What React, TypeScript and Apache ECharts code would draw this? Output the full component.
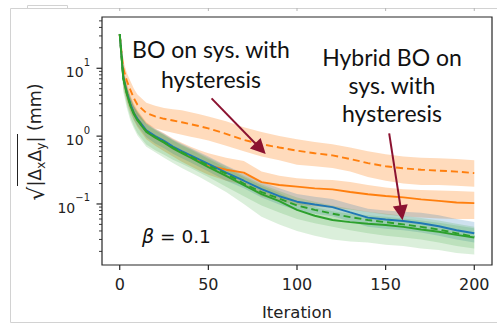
import React, { useEffect, useRef } from "react";
import * as echarts from "echarts";

// ---- data ----
const iterations = [0, 2, 4, 6, 8, 10, 15, 20, 25, 30, 35, 40, 45, 50, 60, 70, 80, 90, 100, 110, 120, 130, 140, 150, 160, 170, 180, 190, 200];

// BO on system with hysteresis (orange dashed)
const boHystMean = [31, 10, 6.5, 4.8, 3.6, 2.9, 2.2, 1.95, 1.8, 1.7, 1.6, 1.5, 1.4, 1.3, 1.08, 0.88, 0.76, 0.68, 0.61, 0.56, 0.52, 0.46, 0.4, 0.36, 0.335, 0.32, 0.31, 0.3, 0.285];
const boHystHi = [33, 13, 8.5, 6.5, 5, 4.1, 3.1, 2.8, 2.6, 2.5, 2.4, 2.25, 2.1, 1.95, 1.65, 1.35, 1.15, 1.0, 0.9, 0.82, 0.76, 0.68, 0.6, 0.54, 0.5, 0.48, 0.47, 0.46, 0.44];
const boHystLo = [29, 7, 4.3, 3.2, 2.5, 2.0, 1.5, 1.3, 1.2, 1.12, 1.05, 0.98, 0.92, 0.86, 0.72, 0.6, 0.5, 0.44, 0.38, 0.36, 0.34, 0.3, 0.25, 0.22, 0.2, 0.19, 0.19, 0.185, 0.18];

// orange solid
const boMean = [32, 7.5, 4.3, 2.9, 2.2, 1.8, 1.2, 0.97, 0.82, 0.68, 0.58, 0.5, 0.43, 0.37, 0.32, 0.29, 0.21, 0.19, 0.18, 0.17, 0.164, 0.15, 0.139, 0.131, 0.125, 0.117, 0.111, 0.105, 0.103];
const boHi = [33, 10, 6, 4, 3, 2.4, 1.6, 1.3, 1.1, 0.92, 0.8, 0.7, 0.62, 0.56, 0.48, 0.43, 0.3, 0.26, 0.24, 0.23, 0.225, 0.21, 0.19, 0.175, 0.165, 0.16, 0.158, 0.155, 0.152];
const boLo = [30, 5.5, 3.2, 2.2, 1.7, 1.35, 0.9, 0.72, 0.6, 0.5, 0.42, 0.36, 0.31, 0.27, 0.22, 0.19, 0.13, 0.11, 0.097, 0.092, 0.088, 0.083, 0.076, 0.07, 0.066, 0.063, 0.061, 0.06, 0.06];

// blue solid
const blueMean = [32, 7.5, 4.4, 3.0, 2.2, 1.8, 1.22, 1.0, 0.85, 0.7, 0.6, 0.52, 0.45, 0.39, 0.29, 0.22, 0.165, 0.13, 0.108, 0.098, 0.09, 0.075, 0.063, 0.059, 0.056, 0.052, 0.047, 0.041, 0.037];
const blueHi = [33, 9, 5.5, 3.8, 2.8, 2.3, 1.55, 1.27, 1.08, 0.9, 0.77, 0.67, 0.58, 0.5, 0.37, 0.28, 0.21, 0.17, 0.14, 0.128, 0.118, 0.1, 0.085, 0.08, 0.077, 0.074, 0.068, 0.06, 0.054];
const blueLo = [30, 6, 3.5, 2.4, 1.75, 1.42, 0.96, 0.78, 0.66, 0.55, 0.47, 0.41, 0.35, 0.3, 0.22, 0.17, 0.125, 0.098, 0.08, 0.072, 0.066, 0.055, 0.046, 0.043, 0.041, 0.038, 0.034, 0.03, 0.027];

// green dashed
const greenDashMean = [32, 7.2, 4.3, 2.9, 2.15, 1.75, 1.18, 0.97, 0.82, 0.68, 0.58, 0.5, 0.43, 0.37, 0.28, 0.2, 0.15, 0.12, 0.095, 0.082, 0.072, 0.064, 0.058, 0.054, 0.05, 0.046, 0.042, 0.037, 0.033];
const greenDashHi = [33, 9, 5.4, 3.7, 2.75, 2.25, 1.52, 1.25, 1.05, 0.88, 0.75, 0.65, 0.56, 0.48, 0.36, 0.26, 0.195, 0.155, 0.125, 0.108, 0.095, 0.085, 0.077, 0.072, 0.067, 0.062, 0.057, 0.051, 0.046];
const greenDashLo = [30, 5, 2.9, 1.9, 1.4, 1.1, 0.75, 0.62, 0.53, 0.45, 0.39, 0.34, 0.29, 0.25, 0.18, 0.13, 0.095, 0.075, 0.06, 0.052, 0.046, 0.041, 0.037, 0.034, 0.032, 0.03, 0.027, 0.024, 0.022];

// green solid (hybrid BO)
const greenMean = [32, 7, 4.2, 2.8, 2.1, 1.7, 1.15, 0.95, 0.8, 0.66, 0.56, 0.48, 0.41, 0.35, 0.26, 0.19, 0.14, 0.11, 0.082, 0.067, 0.058, 0.054, 0.051, 0.049, 0.046, 0.042, 0.039, 0.035, 0.032];
const greenHi = [33, 9, 5.3, 3.6, 2.7, 2.2, 1.5, 1.22, 1.03, 0.86, 0.73, 0.63, 0.54, 0.46, 0.34, 0.25, 0.185, 0.145, 0.11, 0.09, 0.078, 0.072, 0.068, 0.065, 0.061, 0.057, 0.053, 0.048, 0.044];
const greenLo = [30, 4.5, 2.6, 1.7, 1.3, 1.02, 0.7, 0.58, 0.48, 0.4, 0.34, 0.29, 0.25, 0.21, 0.15, 0.1, 0.065, 0.05, 0.04, 0.034, 0.03, 0.028, 0.027, 0.025, 0.024, 0.022, 0.021, 0.019, 0.018];

const xTickValues = [0, 50, 100, 150, 200];
const yMajorTicks = [0.1, 1, 10];
const yMinorTicks = [0.02, 0.03, 0.04, 0.05, 0.06, 0.07, 0.08, 0.09, 0.2, 0.3, 0.4, 0.5, 0.6, 0.7, 0.8, 0.9, 2, 3, 4, 5, 6, 7, 8, 9, 20, 30, 40, 50];

const arrow1 = [[51.8, 3.6], [79.4, 0.652]];
const arrow2 = [[152, 1.1], [158.9, 0.0743]];

const X_MIN = -10;
const X_MAX = 210;
const Y_MIN = 0.0126;
const Y_MAX = 57;

const ORANGE = "#ff7f0e";
const BLUE = "#1f77b4";
const GREEN = "#2ca02c";
const DARK = "#262626";
const ARROW = "#8b1230";
const DV = "DejaVu Sans";

function band(lo: number[], hi: number[], fill: string) {
  return {
    type: "custom",
    silent: true,
    z: 1,
    data: iterations.map((x, i) => [x, lo[i], hi[i]]),
    encode: { x: 0, y: [1, 2] },
    renderItem: (params: any, api: any) => {
      if (params.dataIndex !== 0) return null;
      const pts: number[][] = [];
      for (let i = 0; i < iterations.length; i++) pts.push(api.coord([iterations[i], hi[i]]));
      for (let i = iterations.length - 1; i >= 0; i--) pts.push(api.coord([iterations[i], lo[i]]));
      return { type: "polygon", shape: { points: pts }, style: { fill } };
    },
  };
}

function line(mean: number[], color: string, dashed: boolean, extra: any = {}) {
  return {
    type: "line",
    z: 3,
    silent: true,
    symbol: "none",
    showSymbol: false,
    data: iterations.map((x, i) => [x, mean[i]]),
    lineStyle: { color, width: 1.9, type: dashed ? [7, 4] : "solid" },
    ...extra,
  };
}

export default function App() {
  const ref = useRef<HTMLDivElement>(null);
  useEffect(() => {
    const chart = echarts.init(ref.current!, undefined, { renderer: "svg" });
    const option: any = {
      animation: false,
      backgroundColor: "#ffffff",
      grid: {
        left: 102,
        right: 5,
        top: 17,
        bottom: 53,
        show: true,
        borderColor: DARK,
        borderWidth: 1.2,
        backgroundColor: "transparent",
      },
      xAxis: {
        type: "value",
        min: X_MIN,
        max: X_MAX,
        axisLine: { show: false },
        axisTick: { show: false },
        splitLine: { show: false },
        axisLabel: {
          showMinLabel: false,
          showMaxLabel: false,
          fontSize: 16,
          fontFamily: DV,
          color: "#222",
          margin: 11,
        },
        name: "Iteration",
        nameLocation: "middle",
        nameGap: 39,
        nameTextStyle: { fontSize: 16.5, fontFamily: DV, color: "#222" },
      },
      yAxis: {
        type: "log",
        logBase: 10,
        min: Y_MIN,
        max: Y_MAX,
        axisLine: { show: false },
        axisTick: { show: false },
        splitLine: { show: false },
        minorTick: { show: false },
        axisLabel: {
          showMinLabel: false,
          showMaxLabel: false,
          margin: 12,
          formatter: (v: number) => {
            const e = Math.round(Math.log10(v));
            return `{b|10}{s|${e < 0 ? "\u2212" + -e : e}}`;
          },
          rich: {
            b: { fontSize: 14, fontFamily: DV, color: "#222", lineHeight: 22, verticalAlign: "bottom" },
            s: { fontSize: 10, fontFamily: DV, color: "#222", lineHeight: 13, verticalAlign: "top" },
          },
        },
      },
      series: [
        band(boHystLo, boHystHi, "rgba(255,127,14,0.28)"),
        band(boLo, boHi, "rgba(255,127,14,0.28)"),
        band(blueLo, blueHi, "rgba(31,119,180,0.22)"),
        band(greenDashLo, greenDashHi, "rgba(44,160,44,0.17)"),
        band(greenLo, greenHi, "rgba(44,160,44,0.17)"),
        line(boHystMean, ORANGE, true, {
          markLine: {
            silent: true,
            symbol: ["none", "triangle"],
            symbolSize: 15,
            label: { show: false },
            emphasis: { disabled: true },
            lineStyle: { color: ARROW, width: 2, type: "solid" },
            data: [
              [{ coord: arrow1[0] }, { coord: arrow1[1] }],
              [{ coord: arrow2[0] }, { coord: arrow2[1] }],
            ],
          },
        }),
        line(boMean, ORANGE, false),
        line(blueMean, BLUE, false),
        line(greenDashMean, GREEN, true),
        line(greenMean, GREEN, false),
        {
          type: "custom",
          silent: true,
          clip: false,
          z: 5,
          data: xTickValues.map((v) => [v, Y_MIN]),
          renderItem: (_p: any, api: any) => {
            const p = api.coord([api.value(0), api.value(1)]);
            return {
              type: "group",
              children: [
                { type: "line", shape: { x1: p[0], y1: p[1], x2: p[0], y2: p[1] + 5 }, style: { stroke: DARK, lineWidth: 1.2 } },
                { type: "line", shape: { x1: p[0], y1: 8, x2: p[0], y2: 11 }, style: { stroke: "#b5b5b5", lineWidth: 1 } },
              ],
            };
          },
        },
        {
          type: "custom",
          silent: true,
          clip: false,
          z: 5,
          data: yMajorTicks.map((v) => [X_MIN, v]),
          renderItem: (_p: any, api: any) => {
            const p = api.coord([api.value(0), api.value(1)]);
            return { type: "line", shape: { x1: p[0] - 5.5, y1: p[1], x2: p[0], y2: p[1] }, style: { stroke: DARK, lineWidth: 1.2 } };
          },
        },
        {
          type: "custom",
          silent: true,
          clip: false,
          z: 5,
          data: yMinorTicks.map((v) => [X_MIN, v]),
          renderItem: (_p: any, api: any) => {
            const p = api.coord([api.value(0), api.value(1)]);
            return { type: "line", shape: { x1: p[0] - 3, y1: p[1], x2: p[0], y2: p[1] }, style: { stroke: DARK, lineWidth: 0.9 } };
          },
        },
      ],
      graphic: [
        { type: "rect", silent: true, shape: { x: 10.5, y: 8.5, width: 520, height: 314 }, style: { fill: "none", stroke: "#d2d2d2", lineWidth: 1 } },
        { type: "rect", silent: true, shape: { x: 27.5, y: 5.5, width: 40, height: 3 }, style: { fill: "none", stroke: "#d2d2d2", lineWidth: 1 } },
        {
          type: "text",
          silent: true,
          x: 211,
          y: 64,
          style: {
            text: "BO on sys. with\nhysteresis",
            fontSize: 23,
            fontFamily: "Lato",
            fill: "#111",
            lineHeight: 30,
            align: "center",
            verticalAlign: "middle",
            textAlign: "center",
            textVerticalAlign: "middle",
          },
        },
        {
          type: "text",
          silent: true,
          x: 392,
          y: 85,
          style: {
            text: "Hybrid BO on\nsys. with\nhysteresis",
            fontSize: 23,
            fontFamily: "Lato",
            fill: "#111",
            lineHeight: 28,
            align: "center",
            verticalAlign: "middle",
            textAlign: "center",
            textVerticalAlign: "middle",
          },
        },
        {
          type: "text",
          silent: true,
          x: 142,
          y: 236,
          style: {
            text: "{i|\u03b2}{n| = 0.1}",
            rich: {
              i: { fontSize: 19, fontFamily: DV, fontStyle: "italic", fill: "#111" },
              n: { fontSize: 18.5, fontFamily: DV, fill: "#111" },
            },
            align: "left",
            verticalAlign: "middle",
            textAlign: "left",
            textVerticalAlign: "middle",
          },
        },
        {
          type: "group",
          silent: true,
          x: 35,
          y: 142,
          rotation: Math.PI / 2,
          children: [
            {
              type: "text",
              style: {
                text: "{r|\u221a}{t||\u0394}{s|x}{t|\u0394}{s|y}{t||}{t| (mm)}",
                rich: {
                  r: { fontSize: 22, fontFamily: DV, fill: "#222", lineHeight: 24, verticalAlign: "bottom" },
                  t: { fontSize: 17.5, fontFamily: DV, fill: "#222", lineHeight: 24, verticalAlign: "middle" },
                  s: { fontSize: 12, fontFamily: DV, fill: "#222", lineHeight: 14, verticalAlign: "bottom" },
                },
                align: "center",
                verticalAlign: "middle",
                textAlign: "center",
                textVerticalAlign: "middle",
              },
            },
            { type: "line", shape: { x1: -44, y1: -17.5, x2: 8, y2: -17.5 }, style: { stroke: "#222", lineWidth: 1 } },
          ],
        },
      ],
    };
    chart.setOption(option);
    return () => chart.dispose();
  }, []);
  return (
    <div
      ref={ref}
      style={{ position: "fixed", left: 0, top: 0, width: 497, height: 326, background: "#fff" }}
    />
  );
}
